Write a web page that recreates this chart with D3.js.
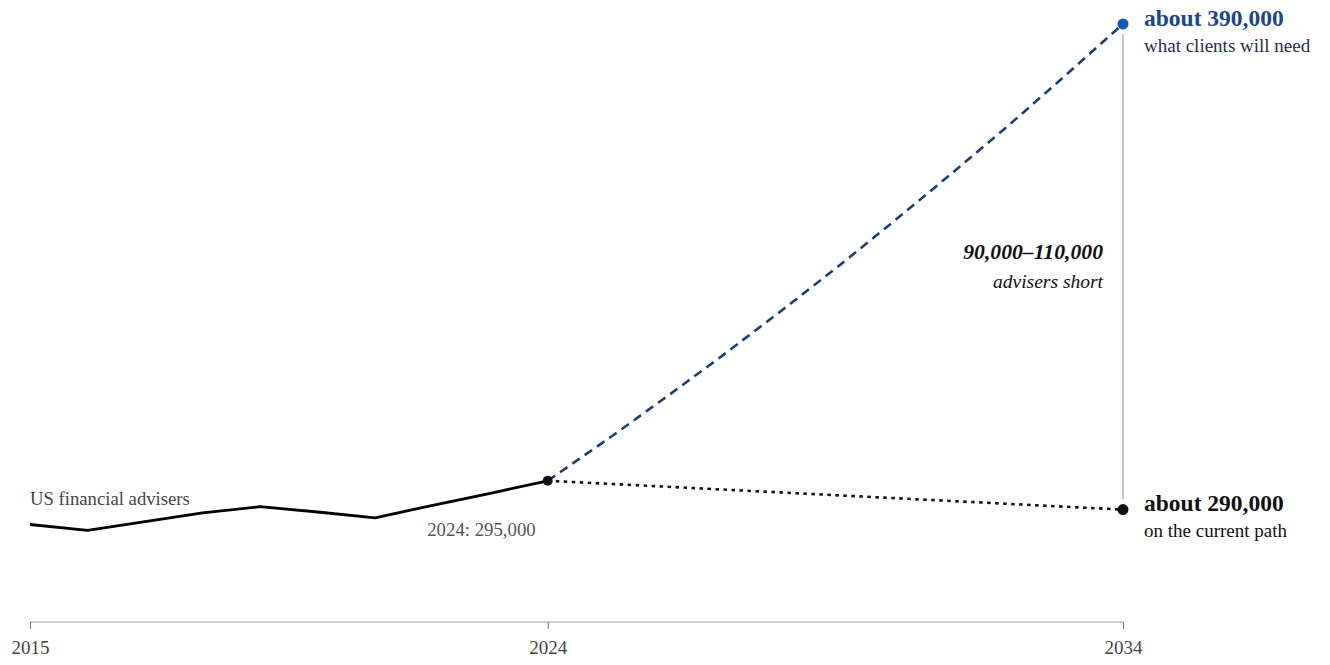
<!DOCTYPE html>
<html>
<head>
<meta charset="utf-8">
<script src="https://cdn.jsdelivr.net/npm/d3@7"></script>
<style>
  html, body { margin: 0; padding: 0; background: #fff; }
  svg { display: block; font-family: "Liberation Serif", "Times New Roman", serif; }
</style>
</head>
<body>
<svg id="chart" width="1330" height="665"></svg>
<script>
// ---- data ----
const histYears  = [2015, 2016, 2017, 2018, 2019, 2020, 2021, 2022, 2023, 2024];
const histValues = [285900, 284700, 286500, 288300, 289600, 288500, 287300, 289900, 292400, 295000];

const needYears  = [2024, 2025, 2026, 2027, 2028, 2029, 2030, 2031, 2032, 2033, 2034];
const needValues = [295000, 303300, 311900, 320700, 329800, 339100, 348800, 358700, 368800, 379300, 390000];

const pathYears  = [2024, 2034];
const pathValues = [295000, 289000];

const tickYears  = [2015, 2024, 2034];

const labelNeedTop = "about 390,000";
const labelNeedSub = "what clients will need";
const labelPathTop = "about 290,000";
const labelPathSub = "on the current path";
const gapTop = "90,000–110,000";
const gapSub = "advisers short";
const seriesLabel = "US financial advisers";
const lastLabel = "2024: 295,000";

// ---- scales ----
const svg = d3.select("#chart");
const x = d3.scaleLinear().domain([2015, 2034]).range([30, 1123]);
const y = d3.scaleLinear().domain([265000, 390000]).range([625, 24]);

const line = d3.line().x((d) => x(d[0])).y((d) => y(d[1]));
const zip = (a, b) => a.map((v, i) => [v, b[i]]);

// ---- axis ----
const axisG = svg.append("g").attr("transform", "translate(0,622)");
const axis = d3.axisBottom(x).tickValues(tickYears).tickFormat(d3.format("d")).tickSize(7).tickPadding(12);
axisG.call(axis);
axisG.select(".domain").attr("stroke", "#cfcfcf").attr("stroke-width", 2).attr("d", `M${x(2015)},0H${x(2034)}`);
axisG.selectAll(".tick line").attr("stroke", "#777").attr("stroke-width", 1);
axisG.selectAll(".tick text")
  .attr("fill", "#444").attr("font-size", 19)
  .attr("font-family", "'Liberation Serif', 'Times New Roman', serif");

// ---- gap connector ----
svg.append("line")
  .attr("x1", x(2034)).attr("x2", x(2034))
  .attr("y1", y(390000) + 10).attr("y2", y(289000) - 10)
  .attr("stroke", "#a8a8a8").attr("stroke-width", 1.3);

// ---- projections ----
svg.append("path")
  .datum(zip(needYears, needValues))
  .attr("d", line)
  .attr("fill", "none").attr("stroke", "#1d3f70").attr("stroke-width", 2.6)
  .attr("stroke-dasharray", "9,6");

svg.append("path")
  .datum(zip(pathYears, pathValues))
  .attr("d", line)
  .attr("fill", "none").attr("stroke", "#111").attr("stroke-width", 2.6)
  .attr("stroke-dasharray", "3.5,4.5");

// ---- history ----
svg.append("path")
  .datum(zip(histYears, histValues))
  .attr("d", line)
  .attr("fill", "none").attr("stroke", "#000").attr("stroke-width", 2.8)
  .attr("stroke-linejoin", "round");

// ---- dots ----
svg.append("circle").attr("cx", x(2024)).attr("cy", y(295000)).attr("r", 5).attr("fill", "#111");
svg.append("circle").attr("cx", x(2034)).attr("cy", y(390000)).attr("r", 5.5).attr("fill", "#1757b5");
svg.append("circle").attr("cx", x(2034)).attr("cy", y(289000)).attr("r", 5.5).attr("fill", "#111");

// ---- labels ----
const tx = x(2034) + 21;
svg.append("text").attr("x", tx).attr("y", 26)
  .attr("font-size", 23.5).attr("font-weight", "bold").attr("fill", "#1b4786").text(labelNeedTop);
svg.append("text").attr("x", tx).attr("y", 52)
  .attr("font-size", 19).attr("fill", "#1f2f4f").text(labelNeedSub);

svg.append("text").attr("x", tx).attr("y", 511)
  .attr("font-size", 23.5).attr("font-weight", "bold").attr("fill", "#111").text(labelPathTop);
svg.append("text").attr("x", tx).attr("y", 537)
  .attr("font-size", 19).attr("fill", "#111").text(labelPathSub);

svg.append("text").attr("x", x(2034) - 20).attr("y", 259).attr("text-anchor", "end")
  .attr("font-size", 21.7).attr("font-weight", "bold").attr("font-style", "italic").attr("fill", "#111").text(gapTop);
svg.append("text").attr("x", x(2034) - 20).attr("y", 288).attr("text-anchor", "end")
  .attr("font-size", 19.5).attr("font-style", "italic").attr("fill", "#111").text(gapSub);

svg.append("text").attr("x", x(2015)).attr("y", 505)
  .attr("font-size", 18.7).attr("fill", "#444").text(seriesLabel);

svg.append("text").attr("x", x(2024) - 12).attr("y", 536).attr("text-anchor", "end")
  .attr("font-size", 18.8).attr("fill", "#555").text(lastLabel);
</script>
</body>
</html>
